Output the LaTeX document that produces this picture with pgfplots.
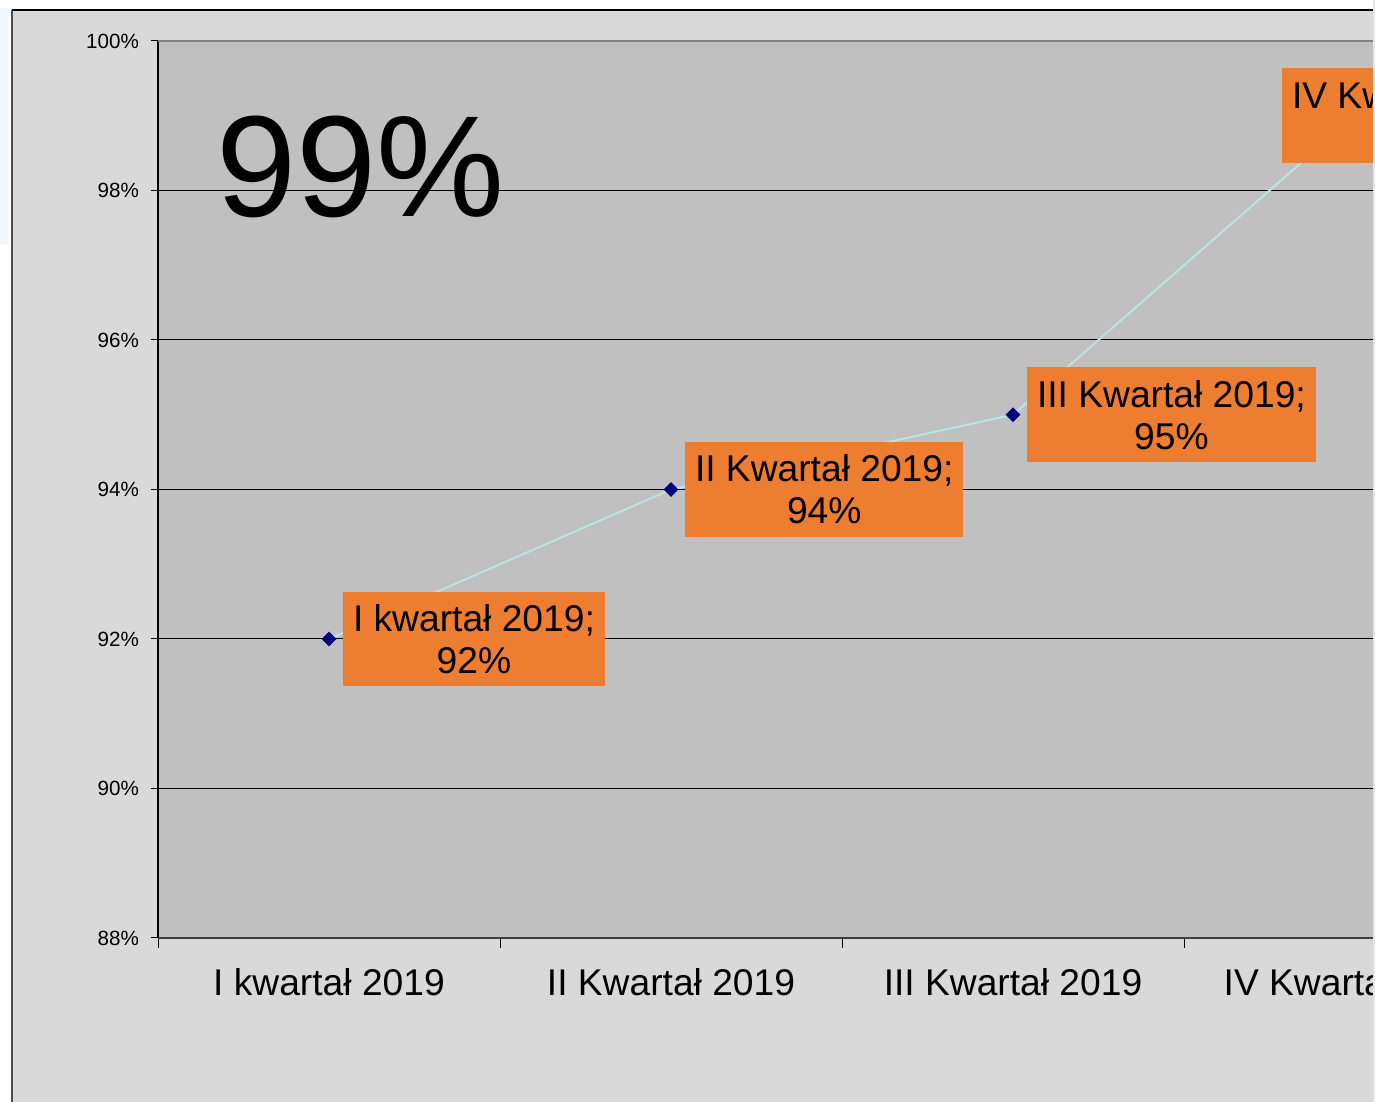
\documentclass[border=0pt]{standalone}
\usepackage{fontspec}
\setmainfont{Liberation Sans}
\usepackage{pgfplots}
\usepackage{pgfplotstable}
\pgfplotsset{compat=1.18}

\definecolor{chartbg}{HTML}{D9D9D9}
\definecolor{plotbg}{HTML}{C0C0C0}
\definecolor{lblorange}{HTML}{ED7D31}
\definecolor{linecyan}{RGB}{186,228,228}
\definecolor{marknavy}{HTML}{000080}
\definecolor{stripblue}{HTML}{F2F8FC}

% x = quarter index, y = percent, dx = label shift (pt)
\pgfplotstableread[col sep=comma]{
x,y,dx,label
0,92,6.5,{I kwartał 2019;\\92\%}
1,94,6.5,{II Kwartał 2019;\\94\%}
2,95,6.5,{III Kwartał 2019;\\95\%}
3,99,-37,{IV Kwartał 2019;\\99\%}
}\quarters

\begin{document}
\begin{tikzpicture}
\useasboundingbox (0,0) rectangle (687.5pt,551pt);
\clip (0,0) rectangle (687.5pt,551pt);
\fill[white] (0,0) rectangle (687.5pt,551pt);
\fill[stripblue] (0,428.5pt) rectangle (4.5pt,547pt);
\fill[chartbg] (6pt,-2pt) rectangle (700pt,546pt);
\draw[black!70, line width=1pt] (6pt,-2pt) -- (6pt,546pt);
\draw[black, line width=0.6pt] (6pt,546pt) -- (700pt,546pt);

\begin{axis}[
    at={(79pt,82pt)}, anchor=south west,
    scale only axis,
    width=684pt, height=448.5pt,
    xmin=-0.5, xmax=3.5,
    ymin=88, ymax=100,
    axis x line*=bottom,
    axis y line*=left,
    axis background/.style={fill=plotbg},
    x axis line style={black!75, line width=0.8pt},
    y axis line style={black, line width=1pt},
    ytick={88,90,...,100},
    yticklabel={\pgfmathprintnumber{\tick}\%},
    /pgf/number format/assume math mode=true,
    yticklabel style={font=\fontsize{10.3}{12}\selectfont, xshift=-2.5pt},
    xtick={0,1,2,3},
    xticklabels={I kwartał 2019, II Kwartał 2019, III Kwartał 2019, IV Kwartał 2019},
    xticklabel style={font=\fontsize{18.6}{21}\selectfont, yshift=-8pt},
    minor xtick={-0.5,0.5,1.5,2.5,3.5},
    major x tick style={draw=none},
    tick align=outside,
    major tick length=3.5pt,
    minor tick length=5pt,
    tick style={black, line width=0.5pt},
    ymajorgrids,
    grid style={black, line width=0.5pt},
    clip=false,
]
\addplot[
    color=linecyan, line width=1pt,
    mark=square*, mark size=2.12pt,
    mark options={rotate=45, fill=marknavy, draw=marknavy},
    visualization depends on={\thisrow{dx} \as \dx},
    point meta=explicit symbolic,
    nodes near coords={\pgfplotspointmeta},
    every node near coord/.append style={
        anchor=west, xshift=\dx pt,
        fill=lblorange, text=black,
        inner xsep=5pt, inner ysep=6.4pt,
        align=center,
        font=\fontsize{18.6}{21}\selectfont},
] table[x=x, y=y, meta=label] {\quarters};
\draw[black!50, line width=1.25pt] (rel axis cs:0,1) -- (rel axis cs:1,1);
\end{axis}

\node[anchor=base west, inner sep=0pt, font=\fontsize{72}{80}\selectfont]
    at (108pt,442.5pt) {99\%};
\fill[black!10] (686.5pt,0) rectangle (688pt,551pt);
\end{tikzpicture}
\end{document}
